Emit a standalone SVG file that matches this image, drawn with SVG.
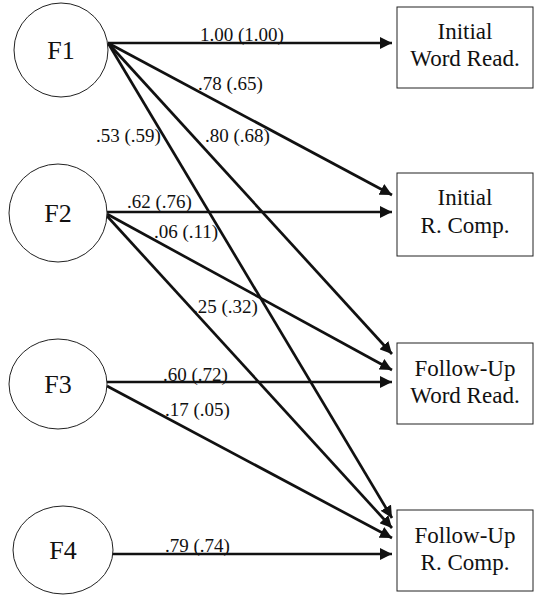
<svg xmlns="http://www.w3.org/2000/svg" width="534" height="595" viewBox="0 0 534 595">
<defs>
<style>
.node{fill:#fff;stroke:#222;stroke-width:1}
.ftxt{font-family:"Liberation Serif","Times New Roman",serif;font-size:26px;fill:#111;text-anchor:middle}
.btxt{font-family:"Liberation Serif","Times New Roman",serif;font-size:23px;fill:#111;text-anchor:middle}
.lbl{font-family:"Liberation Serif","Times New Roman",serif;font-size:19px;fill:#111}
.edge{stroke:#111;stroke-width:2.7;fill:none;marker-end:url(#ah)}
</style>
<marker id="ah" markerUnits="userSpaceOnUse" markerWidth="14" markerHeight="12" refX="12" refY="6" orient="auto">
<path d="M0,0 L12,6 L0,12 Z" fill="#111"/>
</marker>
</defs>
<rect width="534" height="595" fill="#fff"/>
<g id="connectors">
<line class="edge" x1="108" y1="43" x2="392" y2="43"/>
<line class="edge" x1="108" y1="43" x2="392" y2="195"/>
<line class="edge" x1="108" y1="43" x2="392" y2="354"/>
<line class="edge" x1="108" y1="43" x2="392" y2="518"/>
<line class="edge" x1="107" y1="212" x2="392" y2="212"/>
<line class="edge" x1="107" y1="214" x2="392" y2="370"/>
<line class="edge" x1="107" y1="216" x2="392" y2="528"/>
<line class="edge" x1="107" y1="382" x2="392" y2="382"/>
<line class="edge" x1="107" y1="386" x2="392" y2="538"/>
<line class="edge" x1="112" y1="554" x2="392" y2="554"/>
<text class="lbl" x="200" y="41">1.00 (1.00)</text>
<text class="lbl" x="198" y="90">.78 (.65)</text>
<text class="lbl" x="96" y="142">.53 (.59)</text>
<text class="lbl" x="205" y="142">.80 (.68)</text>
<text class="lbl" x="127" y="208">.62 (.76)</text>
<text class="lbl" x="154" y="238">.06 (.11)</text>
<text class="lbl" x="193" y="313">.25 (.32)</text>
<text class="lbl" x="163" y="381">.60 (.72)</text>
<text class="lbl" x="165" y="416">.17 (.05)</text>
<text class="lbl" x="165" y="552">.79 (.74)</text>
</g>
<g id="F1"><ellipse class="node" cx="61" cy="50" rx="47" ry="47"/><text class="ftxt" x="61" y="59">F1</text></g>
<g id="F2"><ellipse class="node" cx="58" cy="213" rx="49" ry="49"/><text class="ftxt" x="58" y="222">F2</text></g>
<g id="F3"><ellipse class="node" cx="58" cy="384" rx="49" ry="45"/><text class="ftxt" x="58" y="393">F3</text></g>
<g id="F4"><ellipse class="node" cx="63" cy="550" rx="50" ry="44"/><text class="ftxt" x="63" y="559">F4</text></g>
<g id="IWR"><rect class="node" x="397" y="7" width="136" height="81"/><text class="btxt" x="465" y="39">Initial</text><text class="btxt" x="465" y="66">Word Read.</text></g>
<g id="IRC"><rect class="node" x="397" y="173" width="136" height="83"/><text class="btxt" x="465" y="205">Initial</text><text class="btxt" x="465" y="233">R. Comp.</text></g>
<g id="FWR"><rect class="node" x="397" y="343" width="136" height="81"/><text class="btxt" x="465" y="376">Follow-Up</text><text class="btxt" x="465" y="403">Word Read.</text></g>
<g id="FRC"><rect class="node" x="397" y="510" width="136" height="81"/><text class="btxt" x="465" y="543">Follow-Up</text><text class="btxt" x="465" y="570">R. Comp.</text></g>
</svg>
